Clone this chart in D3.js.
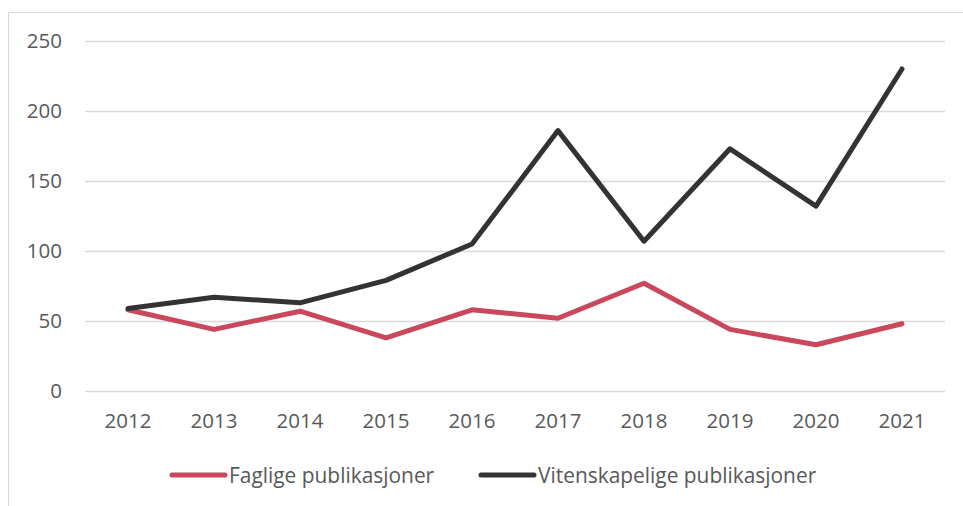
<!DOCTYPE html>
<html>
<head>
<meta charset="utf-8">
<script src="https://cdn.jsdelivr.net/npm/d3@7"></script>
<style>
  body { margin: 0; background: #fff; }
  svg { display: block; }
  text { font-family: "Open Sans", "Noto Sans", sans-serif; fill: #595959; }
</style>
</head>
<body>
<svg width="963" height="506"></svg>
<script>
// data
const years = ['2012', '2013', '2014', '2015', '2016', '2017', '2018', '2019', '2020', '2021']
const faglige = [58, 44, 57, 38, 58, 52, 77, 44, 33, 48]
const vitenskapelige = [59, 67, 63, 79, 105, 186, 107, 173, 132, 230]
const yTicks = [0, 50, 100, 150, 200, 250]
const seriesNames = ['Faglige publikasjoner', 'Vitenskapelige publikasjoner']
const seriesColors = ['#c9485b', '#333333']

const svg = d3.select('svg')

// chart frame (cut off at right and bottom)
svg.append('path')
  .attr('d', 'M8.5,506 L8.5,12.5 L963,12.5')
  .attr('fill', 'none')
  .attr('stroke', '#d9d9d9')
  .attr('stroke-width', 1)

const xScale = d3.scaleBand().domain(years).range([85, 945])
const yScale = d3.scaleLinear().domain([0, 250]).range([391, 41])

// gridlines
svg.append('g')
  .selectAll('line')
  .data(yTicks)
  .enter()
  .append('line')
  .attr('x1', 85)
  .attr('x2', 945)
  .attr('y1', d => yScale(d) + 0.5)
  .attr('y2', d => yScale(d) + 0.5)
  .attr('stroke', '#d9d9d9')
  .attr('stroke-width', 1.3)

// y labels
svg.append('g')
  .selectAll('text')
  .data(yTicks)
  .enter()
  .append('text')
  .attr('x', 62)
  .attr('y', d => yScale(d))
  .attr('dy', '0.36em')
  .attr('text-anchor', 'end')
  .style('font-size', '20.5px')
  .text(d => d)

// x labels
svg.append('g')
  .selectAll('text')
  .data(years)
  .enter()
  .append('text')
  .attr('x', d => xScale(d) + xScale.bandwidth() / 2)
  .attr('y', 428)
  .attr('text-anchor', 'middle')
  .style('font-size', '20.5px')
  .text(d => d)

const line = d3.line()
  .x((d, i) => xScale(years[i]) + xScale.bandwidth() / 2)
  .y(d => yScale(d))

;[faglige, vitenskapelige].forEach((vals, k) => {
  svg.append('path')
    .datum(vals)
    .attr('d', line)
    .attr('fill', 'none')
    .attr('stroke', seriesColors[k])
    .attr('stroke-width', 5)
    .attr('stroke-linejoin', 'round')
    .attr('stroke-linecap', 'round')
})

// legend
const legendX = [172, 481]
seriesNames.forEach((name, k) => {
  let g = svg.append('g').attr('transform', 'translate(' + legendX[k] + ',475)')
  g.append('line')
    .attr('x1', 0).attr('x2', 53)
    .attr('stroke', seriesColors[k])
    .attr('stroke-width', 5)
    .attr('stroke-linecap', 'round')
  g.append('text')
    .attr('x', 57)
    .attr('dy', '0.36em')
    .style('font-size', '20.9px')
    .text(name)
})
</script>
</body>
</html>
